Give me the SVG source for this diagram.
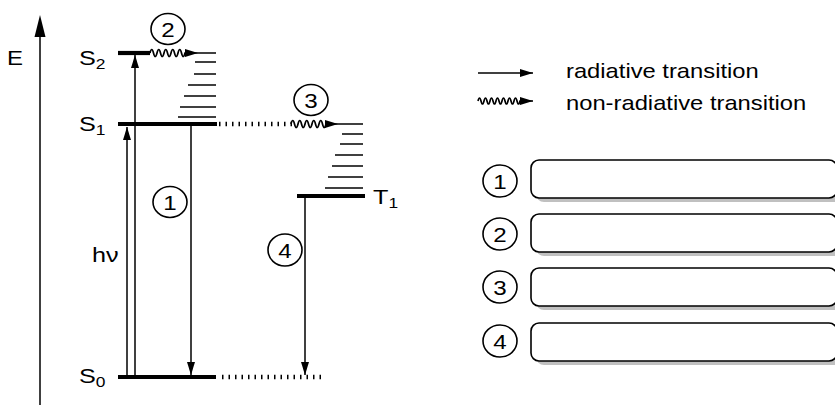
<svg xmlns="http://www.w3.org/2000/svg" width="835" height="405" viewBox="0 0 835 405">
  <style>
    .txt { font-family: "Liberation Sans", Arial, Helvetica, sans-serif; fill: #000; }
    .bar { stroke: #000; stroke-width: 4.2; }
    .thin { stroke: #000; stroke-width: 1.5; fill: none; }
    .lvl { stroke: #000; stroke-width: 1.5; }
    .dots { stroke: #000; stroke-width: 4.5; stroke-dasharray: 1.5 5; }
    .wave { stroke: #000; stroke-width: 1.7; fill: none; }
    .num { fill: #fff; stroke: #000; stroke-width: 1.6; }
    .box { fill: #fff; stroke: #000; stroke-width: 1.6; }
    .shadow { fill: #c0c0c0; }
  </style>
  <defs>
    <marker id="arr" markerUnits="userSpaceOnUse" markerWidth="13" markerHeight="8" refX="13" refY="4" orient="auto" overflow="visible">
      <path d="M0,0 L13,4 L0,8 Z" fill="#000"/>
    </marker>
  </defs>

  <rect width="835" height="405" fill="#fff"/>

  <!-- energy axis -->
  <g id="axis">
    <line class="thin" x1="40" y1="30" x2="40" y2="405"/>
    <path d="M40,15 L45.5,37 L34.5,37 Z" fill="#000"/>
    <text class="txt" font-size="20" transform="translate(7,65) scale(1.2,1)">E</text>
  </g>

  <!-- transitions -->
  <g id="connectors">
    <!-- absorption h nu -->
    <line class="thin" x1="127" y1="377" x2="127" y2="127" marker-end="url(#arr)"/>
    <line class="thin" x1="135" y1="377" x2="135" y2="55" marker-end="url(#arr)"/>
    <!-- fluorescence -->
    <line class="thin" x1="191" y1="126" x2="191" y2="375" marker-end="url(#arr)"/>
    <!-- phosphorescence -->
    <line class="thin" x1="305" y1="198" x2="305" y2="375" marker-end="url(#arr)"/>
    <!-- internal conversion S2 -> S1 -->
    <path class="wave" d="M150,53 q1.75,-7 3.5,0 t3.5,0 t3.5,0 t3.5,0 t3.5,0 t3.5,0 t3.5,0 t3.5,0 t3.5,0 t3.5,0 L198,53" marker-end="url(#arr)"/>
    <!-- intersystem crossing S1 -> T1 -->
    <line class="dots" x1="219" y1="124" x2="292" y2="124"/>
    <path class="wave" d="M291,124 q1.75,-7 3.5,0 t3.5,0 t3.5,0 t3.5,0 t3.5,0 t3.5,0 t3.5,0 t3.5,0 t3.5,0 t3.5,0 L338,124" marker-end="url(#arr)"/>
    <!-- S0 dotted continuation -->
    <line class="dots" x1="222" y1="377" x2="323" y2="377"/>
  </g>

  <!-- S2 level -->
  <g id="S2">
    <line class="bar" x1="118" y1="53" x2="150" y2="53"/>
    <text class="txt" font-size="21" transform="translate(79,65) scale(1.2,1)">S<tspan font-size="14.5" dy="4">2</tspan></text>
  </g>

  <!-- S1 level with vibrational sublevels -->
  <g id="S1">
    <line class="bar" x1="118" y1="124" x2="217" y2="124"/>
    <line class="lvl" x1="198" y1="53" x2="216" y2="53"/>
    <line class="lvl" x1="195" y1="62" x2="216" y2="62"/>
    <line class="lvl" x1="194" y1="74" x2="216" y2="74"/>
    <line class="lvl" x1="188" y1="85" x2="216" y2="85"/>
    <line class="lvl" x1="184" y1="96" x2="216" y2="96"/>
    <line class="lvl" x1="180" y1="107" x2="216" y2="107"/>
    <line class="lvl" x1="178" y1="117" x2="216" y2="117"/>
    <text class="txt" font-size="21" transform="translate(79,131) scale(1.2,1)">S<tspan font-size="14.5" dy="4">1</tspan></text>
  </g>

  <!-- T1 level with vibrational sublevels -->
  <g id="T1">
    <line class="bar" x1="297" y1="196" x2="365" y2="196"/>
    <line class="lvl" x1="338" y1="124" x2="363" y2="124"/>
    <line class="lvl" x1="342" y1="134" x2="363" y2="134"/>
    <line class="lvl" x1="340" y1="144" x2="363" y2="144"/>
    <line class="lvl" x1="335" y1="155" x2="363" y2="155"/>
    <line class="lvl" x1="332" y1="166" x2="363" y2="166"/>
    <line class="lvl" x1="328" y1="177" x2="363" y2="177"/>
    <line class="lvl" x1="325" y1="188" x2="363" y2="188"/>
    <text class="txt" font-size="21" transform="translate(373,204) scale(1.2,1)">T<tspan font-size="14.5" dy="4">1</tspan></text>
  </g>

  <!-- S0 ground state -->
  <g id="S0">
    <line class="bar" x1="118" y1="377" x2="216" y2="377"/>
    <text class="txt" font-size="21" transform="translate(79,383) scale(1.2,1)">S<tspan font-size="14.5" dy="4">0</tspan></text>
  </g>

  <g id="hv">
    <text class="txt" font-size="21" transform="translate(92,262) scale(1.2,1)">hν</text>
  </g>

  <!-- numbered process markers -->
  <g id="mark1">
    <ellipse class="num" cx="170" cy="202" rx="17" ry="15.5"/>
    <text class="txt" font-size="21" text-anchor="middle" transform="translate(170,209.5) scale(1.15,1)">1</text>
  </g>
  <g id="mark2">
    <ellipse class="num" cx="168" cy="29" rx="17" ry="15.5"/>
    <text class="txt" font-size="21" text-anchor="middle" transform="translate(168,36.5) scale(1.15,1)">2</text>
  </g>
  <g id="mark3">
    <ellipse class="num" cx="311" cy="100" rx="17" ry="15.5"/>
    <text class="txt" font-size="21" text-anchor="middle" transform="translate(311,107.5) scale(1.15,1)">3</text>
  </g>
  <g id="mark4">
    <ellipse class="num" cx="285" cy="250" rx="17" ry="16"/>
    <text class="txt" font-size="21" text-anchor="middle" transform="translate(285,257.5) scale(1.15,1)">4</text>
  </g>

  <!-- legend: line styles -->
  <g id="legend-lines">
    <line class="thin" x1="478" y1="73" x2="533" y2="73" marker-end="url(#arr)"/>
    <text class="txt" font-size="19.8" transform="translate(566,78) scale(1.2,1)">radiative transition</text>
    <path class="wave" d="M478,101 q1.5,-6 3,0 t3,0 t3,0 t3,0 t3,0 t3,0 t3,0 t3,0 t3,0 t3,0 t3,0 t3,0 t3,0 t3,0 L533,101" marker-end="url(#arr)"/>
    <text class="txt" font-size="19.8" transform="translate(566,110) scale(1.2,1)">non-radiative transition</text>
  </g>

  <!-- legend: answer boxes -->
  <g id="legend-1">
    <rect class="shadow" x="536" y="164" width="306" height="38" rx="8"/>
    <rect class="box" x="531" y="160" width="306" height="38" rx="8"/>
    <ellipse class="num" cx="500" cy="181" rx="17" ry="16"/>
    <text class="txt" font-size="21" text-anchor="middle" transform="translate(500,188.5) scale(1.15,1)">1</text>
  </g>
  <g id="legend-2">
    <rect class="shadow" x="536" y="218" width="306" height="38" rx="8"/>
    <rect class="box" x="531" y="214" width="306" height="38" rx="8"/>
    <ellipse class="num" cx="500" cy="234" rx="17" ry="16"/>
    <text class="txt" font-size="21" text-anchor="middle" transform="translate(500,241.5) scale(1.15,1)">2</text>
  </g>
  <g id="legend-3">
    <rect class="shadow" x="536" y="272" width="306" height="38" rx="8"/>
    <rect class="box" x="531" y="268" width="306" height="38" rx="8"/>
    <ellipse class="num" cx="500" cy="287" rx="17" ry="16"/>
    <text class="txt" font-size="21" text-anchor="middle" transform="translate(500,294.5) scale(1.15,1)">3</text>
  </g>
  <g id="legend-4">
    <rect class="shadow" x="536" y="327" width="306" height="38" rx="8"/>
    <rect class="box" x="531" y="323" width="306" height="38" rx="8"/>
    <ellipse class="num" cx="500" cy="341" rx="17" ry="16"/>
    <text class="txt" font-size="21" text-anchor="middle" transform="translate(500,348.5) scale(1.15,1)">4</text>
  </g>
</svg>
